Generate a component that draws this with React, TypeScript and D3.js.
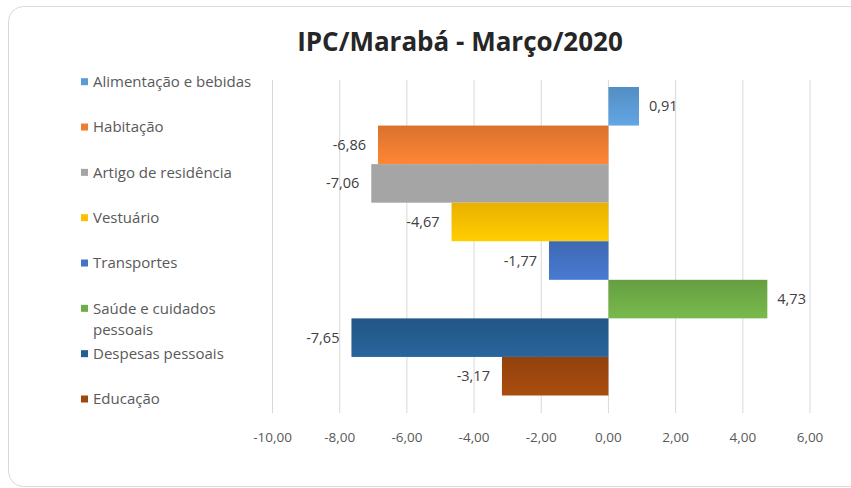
import React from "react";
import * as d3 from "d3";

// IPC/Marabá - Março/2020, variação por grupo
const categories = [
  "Alimentação e bebidas",
  "Habitação",
  "Artigo de residência",
  "Vestuário",
  "Transportes",
  "Saúde e cuidados pessoais",
  "Despesas pessoais",
  "Educação",
];
const values = [0.91, -6.86, -7.06, -4.67, -1.77, 4.73, -7.65, -3.17];
const legendLines = [
  ["Alimentação e bebidas"],
  ["Habitação"],
  ["Artigo de residência"],
  ["Vestuário"],
  ["Transportes"],
  ["Saúde e cuidados", "pessoais"],
  ["Despesas pessoais"],
  ["Educação"],
];
const tickValues = [-10, -8, -6, -4, -2, 0, 2, 4, 6];

const palette = ["#5B9BD5", "#ED7D31", "#A5A5A5", "#FFC000", "#4472C4", "#70AD47", "#255E91", "#9E480E"];

const width = 851;
const height = 488;
const font = "'Open Sans', sans-serif";

const br = d3.formatLocale({ decimal: ",", thousands: ".", grouping: [3], currency: ["R$", ""], minus: "-" });
const fmt = br.format(".2f");

export default function App() {
  const x = d3.scaleLinear().domain([-10, 6]).range([272.5, 810]);
  const y = d3.scaleBand<string>().domain(categories).range([87, 395.5]).padding(0);
  const legendY = d3.scaleLinear().domain([0, 7]).range([81.7, 399]);

  return (
    <svg
      width={width}
      height={height}
      style={{ position: "absolute", left: 0, top: 0, background: "#fff" }}
      fontFamily={font}
    >
      <defs>
        {palette.map((c, i) => {
          const col = d3.color(c)!;
          const gray = i === 2;
          return (
            <linearGradient key={i} id={`g${i}`} x1="0" y1="0" x2="0" y2="1">
              <stop offset="0%" stopColor={gray ? c : col.darker(0.25).formatHex()} />
              <stop offset="100%" stopColor={gray ? c : col.brighter(0.2).formatHex()} />
            </linearGradient>
          );
        })}
      </defs>

      <rect x={8.5} y={6.5} width={856} height={480} rx={15} fill="#fff" stroke="#d9d9d9" />

      <text x={460} y={51} textAnchor="middle" fontSize={26} fontWeight={700} fill="#262626">
        IPC/Marabá - Março/2020
      </text>

      {/* grid */}
      {tickValues.map((t) => (
        <g key={t}>
          <line x1={x(t)} x2={x(t)} y1={80} y2={413} stroke="#d9d9d9" strokeWidth={1} />
          <text x={x(t)} y={442} textAnchor="middle" fontSize={13.5} fill="#595959">
            {fmt(t)}
          </text>
        </g>
      ))}

      {/* bars */}
      {categories.map((c, i) => {
        const v = values[i];
        const x0 = x(Math.min(0, v));
        const x1 = x(Math.max(0, v));
        const yy = y(c)!;
        const cy = yy + y.bandwidth() / 2;
        return (
          <g key={c}>
            <rect x={x0} y={yy} width={x1 - x0} height={y.bandwidth()} fill={`url(#g${i})`} />
            <text
              x={v >= 0 ? x(v) + 10 : x(v) - 12}
              y={cy}
              dy="0.35em"
              textAnchor={v >= 0 ? "start" : "end"}
              fontSize={14.5}
              fill="#404040"
            >
              {fmt(v)}
            </text>
          </g>
        );
      })}

      {/* legend */}
      {legendLines.map((lines, i) => {
        const ly = legendY(i);
        return (
          <g key={i}>
            <rect x={81} y={ly - 3.5} width={7} height={7} fill={palette[i]} />
            {lines.map((l, j) => (
              <text key={j} x={93} y={ly + j * 21} dy="0.35em" fontSize={15} fill="#595959">
                {l}
              </text>
            ))}
          </g>
        );
      })}
    </svg>
  );
}
